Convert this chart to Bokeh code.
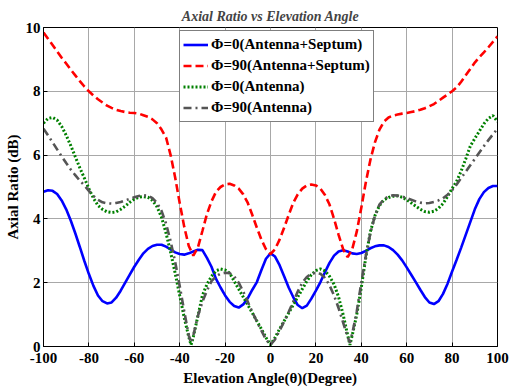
from bokeh.plotting import figure
from bokeh.models import Range1d, Legend, LegendItem, FixedTicker
from bokeh.embed import file_html
from bokeh.resources import INLINE

# ---- data ----
x_std = list(range(-100, 101, 2))

ar_phi0_septum = [
    4.85, 4.90, 4.88, 4.78, 4.58, 4.30, 3.95, 3.55, 3.12, 2.68,   # -100..-82
    2.27, 1.90, 1.60, 1.42, 1.35, 1.38, 1.53, 1.75, 2.00, 2.25,   # -80..-62
    2.50, 2.72, 2.92, 3.06, 3.15, 3.19, 3.19, 3.13, 3.04, 2.95,   # -60..-42
    2.90, 2.88, 2.92, 2.98, 3.03, 3.02, 2.78, 2.50, 2.12, 1.85,   # -40..-22
    1.60, 1.40, 1.27, 1.22, 1.32, 1.52, 1.78, 2.02, 2.40, 2.75,   # -20..-2
    2.92,                                                         # 0
    2.82, 2.55, 2.20, 1.85, 1.55, 1.30, 1.20, 1.28, 1.50, 1.75,   # 2..20
    2.02, 2.33, 2.62, 2.85, 2.98, 3.02, 2.98, 2.92, 2.90, 2.93,   # 22..40
    3.00, 3.08, 3.14, 3.17, 3.17, 3.12, 3.02, 2.88, 2.70, 2.48,   # 42..60
    2.25, 2.02, 1.78, 1.55, 1.38, 1.33, 1.42, 1.65, 1.97, 2.35,   # 62..80
    2.72, 3.10, 3.50, 3.90, 4.30, 4.62, 4.84, 4.97, 5.03, 5.03,   # 82..100
]

ar_phi90_septum = [
    9.84, 9.65, 9.45, 9.25, 9.05, 8.87, 8.68, 8.50, 8.32, 8.15,   # -100..-82
    8.00, 7.87, 7.75, 7.65, 7.55, 7.48, 7.42, 7.38, 7.35, 7.33,   # -80..-62
    7.32, 7.30, 7.25, 7.20, 7.12, 7.00, 6.80, 6.55, 6.00, 5.30,   # -60..-42
    4.50, 3.75, 3.15, 2.85, 3.10, 3.62, 4.15, 4.55, 4.85, 5.00,   # -40..-22
    5.08, 5.10, 5.05, 4.95, 4.77, 4.50, 4.12, 3.72, 3.35, 3.05,   # -20..-2
    2.90,                                                         # 0
    3.05, 3.35, 3.72, 4.12, 4.50, 4.77, 4.95, 5.05, 5.08, 5.05,   # 2..20
    4.95, 4.75, 4.45, 4.00, 3.50, 3.05, 2.80, 3.05, 3.60, 4.35,   # 22..40
    5.15, 5.85, 6.40, 6.80, 7.05, 7.18, 7.24, 7.27, 7.30, 7.32,   # 42..60
    7.35, 7.38, 7.42, 7.47, 7.53, 7.60, 7.70, 7.80, 7.90, 8.00,   # 62..80
    8.12, 8.30, 8.50, 8.70, 8.90, 9.07, 9.22, 9.38, 9.55, 9.72,   # 82..100
]

x_ant = (list(range(-100, -35, 2)) + [-35] + list(range(-34, 35, 2)) + [35]
         + list(range(36, 101, 2)))

ar_phi0_antenna = [
    7.00, 7.15, 7.18, 7.10, 6.90, 6.62, 6.30, 5.95, 5.60, 5.28,   # -100..-82
    4.95, 4.65, 4.42, 4.30, 4.22, 4.20, 4.22, 4.30, 4.40, 4.52,   # -80..-62
    4.62, 4.68, 4.70, 4.68, 4.58, 4.38, 4.05, 3.55, 2.95, 2.30,   # -60..-42
    1.60, 0.90, 0.30, 0.05,                                       # -40,-38,-36,-35
    0.30, 0.95, 1.60, 1.95, 2.20, 2.37, 2.43, 2.40, 2.30, 2.05,   # -34..-16
    1.80, 1.55, 1.30, 1.05, 0.80, 0.55, 0.28,                     # -14..-2
    0.05,                                                         # 0
    0.28, 0.55, 0.80, 1.05, 1.30, 1.55, 1.80, 2.05, 2.25, 2.38,   # 2..20
    2.43, 2.37, 2.20, 1.95, 1.55, 1.00, 0.35, 0.05,               # 22..34, 35
    0.35, 1.00, 1.85, 2.80, 3.60, 4.10, 4.42, 4.60, 4.67, 4.71,   # 36..54
    4.72, 4.68, 4.60, 4.50, 4.40, 4.30, 4.23, 4.21, 4.24, 4.33,   # 56..74
    4.48, 4.70, 4.95, 5.18, 5.50, 5.88, 6.28, 6.52, 6.75, 6.98,   # 76..94
    7.15, 7.24, 7.05,                                             # 96..100
]

ar_phi90_antenna = [
    6.83, 6.62, 6.40, 6.18, 5.96, 5.75, 5.55, 5.37, 5.20, 5.05,   # -100..-82
    4.88, 4.72, 4.60, 4.52, 4.49, 4.48, 4.50, 4.53, 4.58, 4.63,   # -80..-62
    4.68, 4.72, 4.74, 4.73, 4.65, 4.50, 4.25, 3.85, 3.30, 2.65,   # -60..-42
    1.90, 1.10, 0.35, 0.12,                                       # -40,-38,-36,-35
    0.35, 0.95, 1.40, 1.75, 2.05, 2.20, 2.28, 2.31, 2.30, 2.20,   # -34..-16
    2.00, 1.72, 1.40, 1.08, 0.78, 0.50, 0.22,                     # -14..-2
    0.05,                                                         # 0
    0.22, 0.50, 0.78, 1.08, 1.40, 1.72, 2.00, 2.18, 2.28, 2.31,   # 2..20
    2.28, 2.15, 1.92, 1.60, 1.20, 0.75, 0.30, 0.12,               # 22..34, 35
    0.40, 1.10, 2.00, 2.85, 3.55, 4.10, 4.45, 4.62, 4.70, 4.74,   # 36..54
    4.73, 4.70, 4.65, 4.60, 4.55, 4.51, 4.49, 4.50, 4.53, 4.58,   # 56..74
    4.65, 4.76, 4.90, 5.08, 5.28, 5.48, 5.68, 5.88, 6.08, 6.28,   # 76..94
    6.47, 6.65, 6.83,                                             # 96..100
]

labels = ["\u03a6=0(Antenna+Septum)", "\u03a6=90(Antenna+Septum)",
          "\u03a6=0(Antenna)", "\u03a6=90(Antenna)"]
x_ticks = list(range(-100, 101, 20))
y_ticks = [0, 2, 4, 6, 8, 10]
x_tick_labels = {t: str(t) for t in x_ticks}   # plain hyphen minus, as in the reference
y_tick_labels = {t: str(t) for t in y_ticks}

FONT = "Liberation Serif"

p = figure(width=510, height=389, output_backend="svg", toolbar_location=None,
           x_range=Range1d(-100, 100), y_range=Range1d(0, 10),
           min_border_left=43, min_border_right=13, min_border_top=27,
           min_border_bottom=43)
p.background_fill_color = "white"
p.border_fill_color = "white"
p.outline_line_color = "black"
p.outline_line_width = 1

p.title.text = "Axial Ratio vs Elevation Angle"
p.title.align = "center"
p.title.text_font = FONT
p.title.text_font_style = "bold italic"
p.title.text_font_size = "14px"
p.title.standoff = 7

r1 = p.line(x_std, ar_phi0_septum, line_color="#0000ff", line_width=2.6)
r2 = p.line(x_std, ar_phi90_septum, line_color="#ff0000", line_width=2.6,
            line_dash="8 4")
r3 = p.line(x_ant, ar_phi0_antenna, line_color="#008000", line_width=3,
            line_dash="2 2")
r4 = p.line(x_ant, ar_phi90_antenna, line_color="#555555", line_width=2.6,
            line_dash="8 4 2 4")

for ax in (p.xaxis[0], p.yaxis[0]):
    ax.major_label_text_font = FONT
    ax.major_label_text_font_style = "bold"
    ax.major_label_text_font_size = "15px"
    ax.major_label_text_color = "black"
    ax.axis_label_text_font = FONT
    ax.axis_label_text_font_style = "bold"
    ax.axis_label_text_font_size = "15px"
    ax.axis_label_text_color = "black"
    ax.major_tick_in = 4
    ax.major_tick_out = 0
    ax.minor_tick_line_color = None
    ax.axis_line_color = "black"
    ax.major_tick_line_color = "black"

p.xaxis[0].major_label_standoff = 6
p.xaxis[0].axis_label_standoff = 4
p.yaxis[0].major_label_standoff = 3
p.yaxis[0].axis_label_standoff = 2

p.xaxis[0].ticker = FixedTicker(ticks=x_ticks)
p.yaxis[0].ticker = FixedTicker(ticks=y_ticks)
p.xaxis[0].major_label_overrides = x_tick_labels
p.yaxis[0].major_label_overrides = y_tick_labels
p.xaxis[0].axis_label = "Elevation Angle(\u03b8)(Degree)"
p.yaxis[0].axis_label = "Axial Ratio (dB)"

p.xgrid.ticker = FixedTicker(ticks=x_ticks)
p.ygrid.ticker = FixedTicker(ticks=y_ticks)
for g in (p.xgrid[0], p.ygrid[0]):
    g.grid_line_color = "#a8a8a8"
    g.grid_line_width = 1

legend = Legend(items=[
    LegendItem(label=labels[0], renderers=[r1]),
    LegendItem(label=labels[1], renderers=[r2]),
    LegendItem(label=labels[2], renderers=[r3]),
    LegendItem(label=labels[3], renderers=[r4]),
], location=(136, 224))
legend.label_text_font = FONT
legend.label_text_font_style = "bold"
legend.label_text_font_size = "15px"
legend.label_text_color = "black"
legend.label_height = 21
legend.glyph_height = 21
legend.glyph_width = 25
legend.label_standoff = 3
legend.spacing = 0
legend.padding = 3
legend.margin = 0
legend.border_line_color = "black"
legend.border_line_width = 1
legend.background_fill_alpha = 1
p.add_layout(legend, "center")

open("out.html", "w").write(file_html(p, INLINE))
